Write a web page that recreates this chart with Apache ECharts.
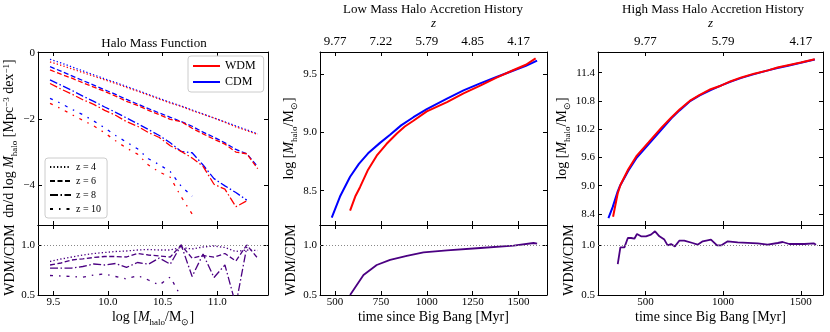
<!DOCTYPE html>
<html><head><meta charset="utf-8">
<script src="https://cdn.jsdelivr.net/npm/echarts@6/dist/echarts.min.js"></script>
<style>html,body{margin:0;padding:0;background:#fff}#c{width:830px;height:332px}</style>
</head><body><div id="c"></div>
<script>
// ---------------- data ----------------
const massBins = [9.47,9.57,9.67,9.77,9.87,9.97,10.07,10.17,10.27,10.37,10.47,10.57,10.67,10.77,10.87,10.97,11.07,11.17,11.27,11.37];
const hmfCDM_z4 = [-0.20,-0.31,-0.43,-0.55,-0.67,-0.79,-0.90,-1.02,-1.14,-1.26,-1.38,-1.50,-1.61,-1.73,-1.85,-1.97,-2.09,-2.21,-2.33,-2.45];
const hmfWDM_z4 = [-0.28,-0.38,-0.49,-0.60,-0.71,-0.82,-0.93,-1.05,-1.16,-1.28,-1.40,-1.52,-1.62,-1.75,-1.86,-1.97,-2.10,-2.24,-2.35,-2.47];
const hmfCDM_z6 = [-0.42,-0.56,-0.70,-0.84,-0.98,-1.12,-1.26,-1.41,-1.55,-1.69,-1.82,-1.95,-2.08,-2.22,-2.40,-2.55,-2.72,-2.92,-3.05,-3.44];
const hmfWDM_z6 = [-0.52,-0.65,-0.77,-0.91,-1.04,-1.17,-1.31,-1.47,-1.59,-1.74,-1.87,-2.01,-2.08,-2.28,-2.45,-2.61,-2.76,-3.00,-3.05,-3.50];
const hmfCDM_z8 = [-0.82,-0.98,-1.14,-1.31,-1.47,-1.64,-1.80,-1.97,-2.14,-2.32,-2.50,-2.72,-2.98,-3.02,-3.39,-3.80,-4.02,-4.22,-4.45];
const hmfWDM_z8 = [-0.93,-1.10,-1.25,-1.42,-1.56,-1.74,-1.89,-2.08,-2.22,-2.41,-2.56,-2.81,-2.98,-3.18,-3.43,-3.97,-4.12,-4.65,-4.47];
const hmfCDM_z10 = [-1.38,-1.53,-1.71,-1.87,-2.06,-2.27,-2.50,-2.70,-2.90,-3.20,-3.38,-3.59,-4.03,-4.33];
const hmfWDM_z10 = [-1.53,-1.69,-1.87,-2.04,-2.21,-2.42,-2.66,-2.88,-3.06,-3.39,-3.60,-3.76,-4.35,-4.87];
const ratio_z4 = [0.835,0.86,0.88,0.90,0.915,0.925,0.935,0.94,0.95,0.955,0.95,0.95,0.975,0.96,0.98,0.99,0.975,0.935,0.95,0.945];
const ratio_z6 = [0.80,0.82,0.85,0.862,0.875,0.885,0.885,0.88,0.915,0.90,0.89,0.88,1.0,0.868,0.895,0.878,0.915,0.84,1.0,0.868];
const ratio_z8 = [0.768,0.768,0.77,0.785,0.81,0.80,0.815,0.776,0.825,0.808,0.87,0.808,1.0,0.685,0.909,0.675,0.80,0.40,0.98];
const ratio_z10 = [0.695,0.69,0.685,0.678,0.70,0.71,0.685,0.66,0.695,0.65,0.60,0.68,0.48,0.30];

const lowTimeCDM = [482,527,582,630,680,745,800,860,927,1000,1110,1200,1291,1380,1473,1540,1601];
const lowMassCDM = [8.27,8.45,8.62,8.73,8.82,8.91,8.98,9.06,9.13,9.20,9.29,9.36,9.42,9.475,9.53,9.57,9.615];
const lowTimeWDM = [582,610,636,680,727,780,837,880,927,1000,1110,1200,1291,1380,1473,1540,1593];
const lowMassWDM = [8.33,8.45,8.53,8.68,8.80,8.90,8.99,9.05,9.10,9.18,9.26,9.335,9.40,9.47,9.535,9.58,9.635];
const lowRatioTime = [582,655,727,800,891,982,1110,1291,1473,1582,1601];
const lowRatio = [0.50,0.70,0.80,0.852,0.892,0.926,0.946,0.97,0.993,1.02,1.013];

const highTimeCDM = [262,290,322,337,390,445,520,605,667,720,785,850,920,989,1050,1118,1200,1289,1350,1418,1500,1590];
const highMassCDM = [8.31,8.55,8.88,9.0,9.32,9.6,9.88,10.2,10.43,10.6,10.79,10.92,11.03,11.13,11.21,11.29,11.37,11.45,11.5,11.55,11.61,11.68];
const highTimeWDM = [292,305,322,340,390,445,520,605,667,720,785,850,920,989,1050,1118,1200,1289,1350,1418,1500,1590];
const highMassWDM = [8.34,8.56,8.84,9.02,9.35,9.64,9.92,10.24,10.45,10.62,10.80,10.93,11.05,11.13,11.22,11.30,11.38,11.45,11.51,11.56,11.615,11.687];
const highRatioTime = [322,339,365,387,408,429,446,472,504,536,562,590,622,643,665,690,718,750,804,836,869,922,933,961,987,1030,1094,1223,1287,1352,1383,1426,1523,1583,1598];
const highRatio = [0.809,0.976,0.976,1.07,1.07,1.063,1.11,1.087,1.087,1.104,1.137,1.087,1.054,0.996,1.01,0.986,1.043,1.043,1.02,1.003,1.037,1.054,1.07,0.996,0.996,1.037,1.027,1.017,1.003,1.02,1.03,1.01,1.01,1.017,1.003];

// tick values / labels
const hmfXTicks = [9.5,10.0,10.5,11.0];
const hmfYTicks = [-4,-2,0];
const ratioYTicks = [0.5,1.0];
const lowXTicks = [500,750,1000,1250,1500];
const lowYTicks = [8.5,9.0,9.5];
const lowZLabels = ['9.77','7.22','5.79','4.85','4.17'];
const highXTicks = [500,1000,1500];
const highYTicks = [8.4,9.0,9.6,10.2,10.8,11.4];
const highZLabels = ['9.77','5.79','4.17'];

// ---------------- style ----------------
const FONT = 'Liberation Serif';
const RED = '#ff0000', BLUE = '#0000ff', PURPLE = '#4b0082';
const DOT = [1.3,2.2], DASH = [5,2.5], DASHDOT = [8,2.5,1.5,2.5], LOOSE = [3,6,1.5,6];
const RICH = {
  r:{fontFamily:FONT,fontSize:14,lineHeight:16,verticalAlign:'top',color:'#000'},
  i:{fontFamily:FONT,fontSize:14,lineHeight:16,verticalAlign:'top',fontStyle:'italic',color:'#000'},
  sb:{fontFamily:FONT,fontSize:9,lineHeight:9,verticalAlign:'top',padding:[8,0,0,0],color:'#000'},
  sp:{fontFamily:FONT,fontSize:9,lineHeight:9,verticalAlign:'top',padding:[0,0,0,0],color:'#000'}
};
const massName = '{r|log [}{i|M}{sb|halo}{r|/M}{sb|⊙}{r|]}';
const hmfName = '{r|dn/d log }{i|M}{sb|halo}{r| [Mpc}{sp|−3}{r| dex}{sp|−1}{r|]}';

const grids = [
  {left:38, top:52, width:230, height:173},
  {left:38, top:225, width:230, height:70},
  {left:320, top:52, width:227, height:173},
  {left:320, top:225, width:227, height:70},
  {left:598, top:52, width:225, height:173},
  {left:598, top:225, width:225, height:70}
];

function ax(o){
  const a = {type:'value', gridIndex:o.grid, min:o.min, max:o.max, position:o.pos,
    axisLine:{show:true,onZero:false,lineStyle:{color:'#000',width:1}},
    axisTick:{show:true,inside:true,length:4,customValues:o.ticks,lineStyle:{color:'#000',width:1}},
    axisLabel:{show:!!o.fmt, customValues:o.ticks, formatter:o.fmt, margin:o.margin||3,
      fontFamily:FONT, fontSize:o.fs||11, color:'#000'},
    splitLine:{show:false}};
  if(o.name){
    a.name = o.name; a.nameLocation = 'middle'; a.nameGap = o.gap;
    a.nameTextStyle = Object.assign({fontFamily:FONT,fontSize:14,color:'#000',rich:RICH}, o.nts||{});
  }
  return a;
}
const f1 = v => v.toFixed(1);
const fMinus = v => v === 0 ? '0' : (v < 0 ? '−' + Math.abs(v) : String(v));
const fInt = v => String(v);

const hmfX = [9.36, 11.464], hmfY = [-5.2, 0.02], rY = [0.5, 1.2];
const lowX = [418, 1655], lowY = [8.206, 9.689];
const highX = [195, 1643], highY = [8.166, 11.84];

// axis index 2g = bottom / left of grid g, 2g+1 = top / right
const xAxis = [
  ax({grid:0,min:hmfX[0],max:hmfX[1],pos:'bottom',ticks:hmfXTicks}),
  ax({grid:0,min:hmfX[0],max:hmfX[1],pos:'top',ticks:hmfXTicks}),
  ax({grid:1,min:hmfX[0],max:hmfX[1],pos:'bottom',ticks:hmfXTicks,fmt:f1,margin:2,name:massName,gap:15}),
  ax({grid:1,min:hmfX[0],max:hmfX[1],pos:'top',ticks:hmfXTicks}),
  ax({grid:2,min:lowX[0],max:lowX[1],pos:'bottom',ticks:lowXTicks}),
  ax({grid:2,min:lowX[0],max:lowX[1],pos:'top',ticks:lowXTicks,fs:13,margin:4,
      fmt:v => lowZLabels[lowXTicks.indexOf(v)], name:'z', gap:21, nts:{fontStyle:'italic',fontSize:13}}),
  ax({grid:3,min:lowX[0],max:lowX[1],pos:'bottom',ticks:lowXTicks,fmt:fInt,margin:2,name:'time since Big Bang [Myr]',gap:15}),
  ax({grid:3,min:lowX[0],max:lowX[1],pos:'top',ticks:lowXTicks}),
  ax({grid:4,min:highX[0],max:highX[1],pos:'bottom',ticks:highXTicks}),
  ax({grid:4,min:highX[0],max:highX[1],pos:'top',ticks:highXTicks,fs:13,margin:4,
      fmt:v => highZLabels[highXTicks.indexOf(v)], name:'z', gap:21, nts:{fontStyle:'italic',fontSize:13}}),
  ax({grid:5,min:highX[0],max:highX[1],pos:'bottom',ticks:highXTicks,fmt:fInt,margin:2,name:'time since Big Bang [Myr]',gap:15}),
  ax({grid:5,min:highX[0],max:highX[1],pos:'top',ticks:highXTicks})
];
const yAxis = [
  ax({grid:0,min:hmfY[0],max:hmfY[1],pos:'left',ticks:hmfYTicks,fmt:fMinus,name:hmfName,gap:20}),
  ax({grid:0,min:hmfY[0],max:hmfY[1],pos:'right',ticks:hmfYTicks}),
  ax({grid:1,min:rY[0],max:rY[1],pos:'left',ticks:ratioYTicks,fmt:f1,name:'WDM/CDM',gap:19}),
  ax({grid:1,min:rY[0],max:rY[1],pos:'right',ticks:ratioYTicks}),
  ax({grid:2,min:lowY[0],max:lowY[1],pos:'left',ticks:lowYTicks,fmt:f1,name:massName,gap:21}),
  ax({grid:2,min:lowY[0],max:lowY[1],pos:'right',ticks:lowYTicks}),
  ax({grid:3,min:rY[0],max:rY[1],pos:'left',ticks:ratioYTicks,fmt:f1,name:'WDM/CDM',gap:22}),
  ax({grid:3,min:rY[0],max:rY[1],pos:'right',ticks:ratioYTicks}),
  ax({grid:4,min:highY[0],max:highY[1],pos:'left',ticks:highYTicks,fmt:f1,name:massName,gap:26}),
  ax({grid:4,min:highY[0],max:highY[1],pos:'right',ticks:highYTicks}),
  ax({grid:5,min:rY[0],max:rY[1],pos:'left',ticks:ratioYTicks,fmt:f1,name:'WDM/CDM',gap:22}),
  ax({grid:5,min:rY[0],max:rY[1],pos:'right',ticks:ratioYTicks})
];

function pairs(xs, ys){ return ys.map((y,i) => [xs[i], y]); }
function line(name, g, data, color, width, dash, extra){
  return Object.assign({type:'line', name, xAxisIndex:2*g, yAxisIndex:2*g, data,
    symbol:'none', showSymbol:false, silent:true, clip:true, smooth:false,
    lineStyle:{color, width, type:dash}, itemStyle:{color}}, extra||{});
}
const unity = {markLine:{silent:true, symbol:'none', label:{show:false},
  lineStyle:{color:'#888', type:[1,2], width:1}, data:[{yAxis:1}], animation:false}};

const series = [
  // legend proxies
  line('WDM', 0, [], RED, 1.5, 'solid'),
  line('CDM', 0, [], BLUE, 1.5, 'solid'),
  line('z = 4', 0, [], '#000', 1.3, DOT),
  line('z = 6', 0, [], '#000', 1.3, DASH),
  line('z = 8', 0, [], '#000', 1.3, DASHDOT),
  line('z = 10', 0, [], '#000', 1.3, LOOSE),
  // halo mass function
  line('CDM z4', 0, pairs(massBins, hmfCDM_z4), BLUE, 1.3, DOT),
  line('WDM z4', 0, pairs(massBins, hmfWDM_z4), RED, 1.3, DOT),
  line('CDM z6', 0, pairs(massBins, hmfCDM_z6), BLUE, 1.3, DASH),
  line('WDM z6', 0, pairs(massBins, hmfWDM_z6), RED, 1.3, DASH),
  line('CDM z8', 0, pairs(massBins, hmfCDM_z8), BLUE, 1.3, DASHDOT),
  line('WDM z8', 0, pairs(massBins, hmfWDM_z8), RED, 1.3, DASHDOT),
  line('CDM z10', 0, pairs(massBins, hmfCDM_z10), BLUE, 1.3, LOOSE),
  line('WDM z10', 0, pairs(massBins, hmfWDM_z10), RED, 1.3, LOOSE),
  line('ratio z4', 1, pairs(massBins, ratio_z4), PURPLE, 1.3, DOT, unity),
  line('ratio z6', 1, pairs(massBins, ratio_z6), PURPLE, 1.3, DASH),
  line('ratio z8', 1, pairs(massBins, ratio_z8), PURPLE, 1.3, DASHDOT),
  line('ratio z10', 1, pairs(massBins, ratio_z10), PURPLE, 1.3, LOOSE),
  // low mass history
  line('CDM low', 2, pairs(lowTimeCDM, lowMassCDM), BLUE, 2, 'solid'),
  line('WDM low', 2, pairs(lowTimeWDM, lowMassWDM), RED, 2, 'solid'),
  line('ratio low', 3, pairs(lowRatioTime, lowRatio), PURPLE, 1.8, 'solid', unity),
  // high mass history
  line('CDM high', 4, pairs(highTimeCDM, highMassCDM), BLUE, 2, 'solid'),
  line('WDM high', 4, pairs(highTimeWDM, highMassWDM), RED, 2, 'solid'),
  line('ratio high', 5, pairs(highRatioTime, highRatio), PURPLE, 1.8, 'solid', unity)
];

const legend = [
  {data:['WDM','CDM'], orient:'vertical', left:188, top:56, itemWidth:27, itemHeight:12, itemGap:4,
   itemStyle:{opacity:0},
   textStyle:{fontFamily:FONT,fontSize:12,color:'#000'}, borderColor:'#ccc', borderWidth:1, borderRadius:3,
   padding:[4,8,4,4], backgroundColor:'#fff', selectedMode:false},
  {data:['z = 4','z = 6','z = 8','z = 10'], orient:'vertical', left:45, top:158, itemWidth:21, itemHeight:11, itemGap:4,
   itemStyle:{opacity:0},
   textStyle:{fontFamily:FONT,fontSize:10,color:'#000'}, borderColor:'#ccc', borderWidth:1, borderRadius:3,
   padding:[4,6,4,4], backgroundColor:'#fff', selectedMode:false}
];

function title(text, x, y){
  return {type:'text', x, y, silent:true,
    style:{text, fontFamily:FONT, fontSize:13, fill:'#000', align:'center', verticalAlign:'middle'}};
}

const chart = echarts.init(document.getElementById('c'), null, {renderer:'canvas'});
chart.setOption({
  animation:false,
  backgroundColor:'#fff',
  grid:grids, xAxis, yAxis, series, legend,
  graphic:[
    title('Halo Mass Function', 154, 44),
    title('Low Mass Halo Accretion History', 433, 10),
    title('High Mass Halo Accretion History', 713, 10)
  ]
});
</script></body></html>
